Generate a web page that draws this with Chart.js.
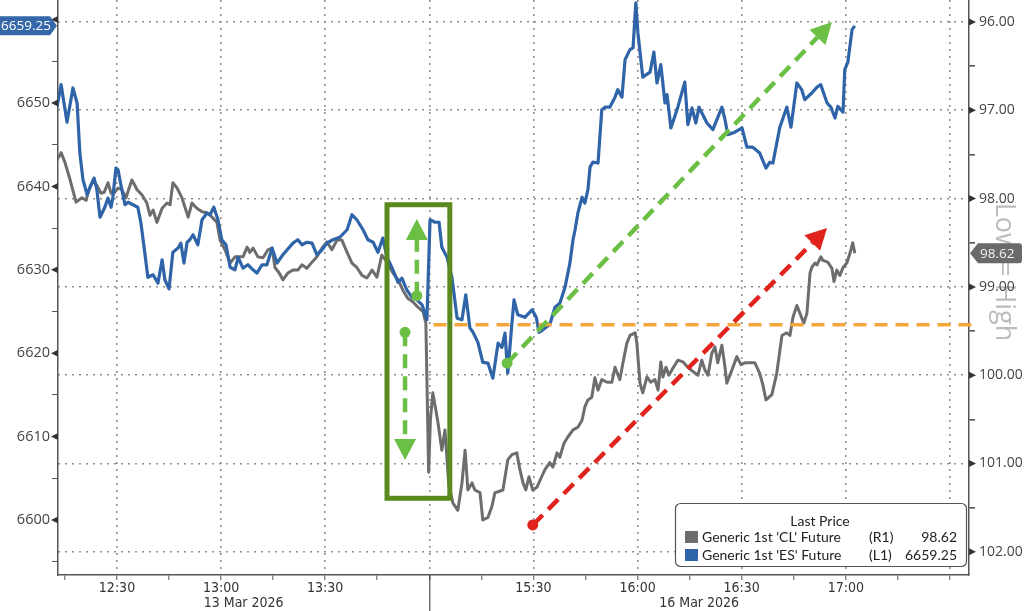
<!DOCTYPE html>
<html><head><meta charset="utf-8">
<script src="https://cdn.jsdelivr.net/npm/chart.js@4.4.1/dist/chart.umd.min.js"></script>
<style>html,body{margin:0;padding:0;background:#fff;overflow:hidden}#wrap{position:relative;width:1024px;height:611px}</style>
</head><body><div id="wrap"><canvas id="c" width="1024" height="611"></canvas></div>
<script>
// Time axis in minutes: values below 120 are minutes after 12:00 on 13 Mar 2026;
// values from 120 on are 16 Mar 2026 with 120 = 15:00 (session gap removed).
const esTime = [12.7,13.9,15.6,17.3,18.5,19.3,20.2,21.4,22.2,23.4,24.2,25.1,26.5,27.4,28.3,28.8,29.7,30.3,31.4,32.3,33.2,34.6,36.0,36.9,37.8,38.9,40.4,41.8,43.0,43.8,45.0,46.1,47.6,48.4,49.3,50.2,51.0,51.9,53.3,54.5,55.9,56.8,57.9,59.1,60.2,61.4,62.6,64.0,64.9,66.3,67.7,69.2,70.3,71.8,73.2,74.7,76.1,77.8,80.7,82.1,83.3,84.7,86.2,87.6,89.1,90.5,92.2,94.2,96.3,97.7,99.1,100.9,102.3,103.8,105.2,106.6,107.8,109.5,111.0,112.1,113.5,115.0,116.4,117.9,118.7,119.3,
  120.2,121.6,122.8,123.6,125.1,126.5,128.0,129.4,130.5,131.7,132.6,134.0,135.4,136.9,138.3,139.8,140.9,141.8,142.6,143.8,144.4,145.5,147.5,149.6,150.8,151.6,152.7,154.7,156.2,157.6,159.1,160.5,161.4,162.0,162.8,164.0,164.8,165.7,166.3,167.1,168.6,169.7,170.6,172.0,173.5,174.3,175.5,176.4,177.8,178.7,179.5,180.1,181.5,183.6,184.7,185.6,186.7,187.9,188.5,189.6,191.6,193.6,194.5,195.7,196.8,197.7,200.0,201.7,204.3,205.2,206.0,208.0,210.1,211.5,213.2,215.2,217.0,218.1,219.0,221.0,223.0,224.2,225.9,227.3,228.2,230.2,231.7,232.8,234.6,235.7,236.9,237.7,239.2,239.7,240.6,241.8,242.6];
const esValue = [6649.5,6652.2,6647.7,6651.8,6650.0,6644.0,6640.8,6639.0,6639.9,6641.0,6639.6,6636.3,6637.5,6638.6,6637.5,6638.7,6642.2,6642.0,6639.6,6637.8,6638.1,6637.8,6637.5,6635.6,6632.7,6629.1,6629.4,6628.4,6631.2,6628.8,6627.7,6632.1,6632.6,6633.2,6630.8,6633.3,6633.6,6634.2,6633.0,6636.0,6636.8,6636.6,6637.5,6636.0,6633.6,6633.0,6630.3,6630.0,6631.5,6630.2,6630.6,6630.0,6629.6,6630.6,6630.6,6632.6,6630.8,6631.8,6633.2,6633.6,6633.0,6633.3,6633.2,6631.8,6632.4,6633.2,6633.6,6633.9,6634.8,6636.6,6636.0,6634.8,6633.6,6633.3,6632.1,6633.8,6631.5,6630.0,6628.5,6629.0,6627.6,6626.7,6626.4,6625.8,6624.8,6624.0,
  6636.0,6635.7,6635.7,6632.7,6631.5,6629.1,6624.2,6624.0,6627.0,6623.0,6622.5,6621.3,6618.9,6618.8,6617.0,6621.2,6620.7,6622.4,6617.6,6623.6,6626.4,6624.6,6624.3,6625.2,6624.3,6622.5,6622.8,6623.4,6625.5,6626.0,6627.9,6630.8,6633.6,6634.8,6636.8,6638.7,6638.0,6639.6,6642.3,6642.9,6642.8,6649.2,6649.5,6649.5,6650.7,6651.6,6650.7,6655.2,6656.4,6656.6,6662.0,6658.4,6653.1,6653.7,6656.1,6652.4,6654.6,6650.0,6651.0,6647.0,6649.5,6652.5,6647.4,6649.4,6647.6,6649.5,6647.6,6646.8,6649.5,6648.0,6646.2,6646.5,6647.0,6644.7,6644.7,6644.0,6642.2,6642.9,6642.8,6647.1,6649.5,6647.1,6652.4,6651.6,6650.4,6651.2,6651.9,6652.2,6650.0,6649.5,6648.2,6649.6,6648.9,6654.0,6654.9,6658.8,6659.25];
const clTime = [12.7,13.9,15.0,16.5,18.2,19.9,21.1,21.6,23.1,24.2,25.4,26.3,27.4,28.3,29.1,30.3,31.4,32.6,33.5,34.3,35.8,37.2,38.6,39.5,40.4,41.5,43.0,44.4,45.3,46.1,47.3,48.7,50.5,51.6,53.0,54.5,55.9,57.4,58.8,59.7,61.1,62.6,64.0,66.3,67.5,68.3,69.2,70.6,72.1,73.5,74.7,75.5,76.7,77.8,79.3,80.7,82.1,83.3,84.7,86.2,87.6,89.1,90.5,91.9,93.4,94.8,96.3,97.7,99.1,100.6,102.0,103.5,104.9,106.3,107.8,109.5,111.0,112.4,113.8,115.3,116.7,118.2,119.0,119.8,
  120.3,121.0,122.5,123.6,124.5,125.6,126.8,128.2,129.4,130.3,131.1,132.3,133.1,134.6,135.4,136.9,138.0,138.9,139.8,141.2,142.6,143.8,145.2,146.1,147.0,147.8,148.7,149.8,151.0,151.9,153.3,154.7,155.6,156.8,157.6,158.8,159.9,161.4,162.8,164.0,164.8,165.7,166.8,167.7,168.6,169.7,171.2,172.6,173.5,174.9,175.8,176.9,177.8,179.3,179.8,180.7,181.5,182.7,183.8,185.0,185.9,186.7,187.3,188.2,189.0,190.2,191.6,193.1,194.5,196.0,197.4,198.5,199.4,200.3,201.4,202.3,203.1,204.3,205.2,205.7,207.2,208.6,209.8,210.9,212.4,213.8,215.2,216.1,217.0,218.7,220.1,221.6,223.0,223.9,224.8,225.9,226.8,227.9,228.8,229.7,230.2,231.1,231.7,232.8,233.4,234.8,236.0,236.6,237.4,238.3,239.2,240.3,241.2,242.0,242.6];
const clValue = [97.56,97.48,97.59,97.79,98.04,97.99,98.02,97.94,97.79,97.85,97.94,97.93,97.82,97.94,97.94,97.88,97.90,97.99,97.88,97.79,97.90,97.96,98.05,98.19,98.13,98.27,98.11,98.05,98.07,97.82,97.88,97.99,98.21,98.05,98.11,98.15,98.16,98.21,98.27,98.47,98.58,98.73,98.66,98.66,98.55,98.61,98.56,98.66,98.67,98.58,98.56,98.78,98.84,98.92,98.84,98.81,98.81,98.75,98.79,98.72,98.66,98.56,98.49,98.58,98.47,98.47,98.61,98.73,98.78,98.87,98.90,98.81,98.89,98.64,98.72,98.84,98.92,99.04,99.13,99.17,99.23,99.28,99.41,101.10,
  100.51,100.20,100.54,100.85,100.62,101.24,101.45,101.53,101.22,100.85,101.30,101.22,101.30,101.33,101.64,101.61,101.49,101.33,101.32,101.30,100.96,100.90,100.88,101.07,101.22,101.30,101.15,101.30,101.27,101.19,101.07,100.99,101.04,100.88,100.93,100.77,100.70,100.62,100.59,100.51,100.36,100.28,100.25,100.03,100.17,100.05,100.08,100.08,99.91,100.05,99.86,99.64,99.55,99.52,99.64,100.09,100.20,100.02,100.08,100.05,100.17,99.85,100.02,99.91,100.00,99.92,99.83,99.85,99.91,99.96,100.00,99.83,99.94,100.00,99.75,99.68,99.86,99.66,99.91,100.09,99.94,99.79,99.88,99.86,99.86,99.86,99.98,100.11,100.28,100.22,99.98,99.55,99.52,99.55,99.34,99.21,99.30,99.41,99.30,98.84,98.78,98.73,98.75,98.66,98.70,98.72,98.79,98.94,98.81,98.87,98.78,98.73,98.62,98.50,98.62];

const timeTicks = [15,30,45,60,75,90,105,120,135,150,165,180,195,210,225,240,255,270];
const timeTickLabels = {30:'12:30',60:'13:00',90:'13:30',150:'15:30',180:'16:00',210:'16:30',240:'17:00'};
const dayBreak = 120;
const dayNames = ['13 Mar 2026','16 Mar 2026'];
const esTicks = [6595,6600,6605,6610,6615,6620,6625,6630,6635,6640,6645,6650,6655,6660];
const esLabelled = [6600,6610,6620,6630,6640,6650];
const clTicks = [96,96.5,97,97.5,98,98.5,99,99.5,100,100.5,101,101.5,102];
const seriesNames = ["Generic 1st 'CL' Future", "Generic 1st 'ES' Future"];
const seriesAxes = ['(R1)','(L1)'];
const legendTitle = 'Last Price';
const axisNote = 'Low = High';

// Annotations (in time / ES-price coordinates)
const supportLevel = 6623.4, supportStart = 121.2;
const boxTime = [107.8, 125.9], boxLevel = [6637.8, 6602.6];
const arrowDefs = [
  {from:[116.4,6626.9], to:[116.4,6636.1], color:'green'},
  {from:[113.0,6622.5], to:[113.0,6607.2], color:'green'},
  {from:[142.4,6618.8], to:[236.0,6659.7], color:'green'},
  {from:[149.8,6599.4], to:[234.6,6635.0], color:'red'}
];

const COL = {es:'#2f64a8', cl:'#6d6d6d', green:'#6cbf45', red:'#e0231c', orange:'#f4a53c', box:'#5a8a1e'};
const CONDENSED = '"DejaVu Sans Condensed","Liberation Sans Narrow","Roboto Condensed","DejaVu Sans",sans-serif';

const esData = esTime.map((t,i)=>({x:t,y:esValue[i]}));
const clData = clTime.map((t,i)=>({x:t,y:clValue[i]}));

function fixWidth(w){return s=>{s.width=w;s.paddingTop=0;s.paddingBottom=0;};}

const deco = {
  id:'deco',
  beforeDraw(chart){
    const ctx=chart.ctx;
    ctx.save();
    ctx.translate(1004,272); ctx.rotate(Math.PI/2);
    ctx.font='27px "Open Sans"'; ctx.fillStyle='#bcbcbc';
    ctx.textAlign='center'; ctx.textBaseline='middle';
    ctx.fillText(axisNote,0,0);
    ctx.restore();
  },
  afterDatasetsDraw(chart){
    const {ctx, chartArea:a, scales} = chart;
    const X=v=>scales.x.getPixelForValue(v), Y=v=>scales.y.getPixelForValue(v);
    ctx.save();
    ctx.strokeStyle=COL.orange; ctx.lineWidth=3.5; ctx.setLineDash([13,8]);
    const oy=Y(supportLevel);
    ctx.beginPath(); ctx.moveTo(X(supportStart),oy); ctx.lineTo(a.right+6,oy); ctx.stroke();
    ctx.setLineDash([]); ctx.strokeStyle=COL.box; ctx.lineWidth=5;
    const bx0=X(boxTime[0]), bx1=X(boxTime[1]), by0=Y(boxLevel[0]), by1=Y(boxLevel[1]);
    ctx.strokeRect(bx0,by0,bx1-bx0,by1-by0);
    arrowDefs.forEach(ar=>{
      const c=COL[ar.color];
      const x0=X(ar.from[0]), y0=Y(ar.from[1]), x1=X(ar.to[0]), y1=Y(ar.to[1]);
      const ang=Math.atan2(y1-y0,x1-x0);
      const head=21, hw=11;
      const bx=x1-Math.cos(ang)*head, by=y1-Math.sin(ang)*head;
      ctx.strokeStyle=c; ctx.fillStyle=c; ctx.lineWidth=4.5; ctx.setLineDash([14,8]);
      ctx.beginPath(); ctx.moveTo(x0,y0); ctx.lineTo(bx,by); ctx.stroke();
      ctx.setLineDash([]);
      ctx.beginPath(); ctx.arc(x0,y0,5.5,0,Math.PI*2); ctx.fill();
      ctx.beginPath(); ctx.moveTo(x1,y1);
      ctx.lineTo(bx+Math.sin(ang)*hw, by-Math.cos(ang)*hw);
      ctx.lineTo(bx-Math.sin(ang)*hw, by+Math.cos(ang)*hw);
      ctx.closePath(); ctx.fill();
    });
    ctx.restore();
  },
  afterDraw(chart){
    const {ctx, chartArea:a, scales} = chart;
    const X=v=>scales.x.getPixelForValue(v), Y=v=>scales.y.getPixelForValue(v), Y1=v=>scales.y1.getPixelForValue(v);
    ctx.save();
    ctx.fillStyle='#333';
    esTicks.filter(v=>v%10===0).forEach(v=>{
      const p=Y(v); ctx.beginPath(); ctx.moveTo(a.left-7,p); ctx.lineTo(a.left,p-3.5); ctx.lineTo(a.left,p+3.5); ctx.closePath(); ctx.fill();
    });
    clTicks.filter(v=>Number.isInteger(v)).forEach(v=>{
      const p=Y1(v); ctx.beginPath(); ctx.moveTo(a.right+7,p); ctx.lineTo(a.right,p-3.5); ctx.lineTo(a.right,p+3.5); ctx.closePath(); ctx.fill();
    });
    const xb=X(dayBreak);
    ctx.strokeStyle='#333'; ctx.lineWidth=1;
    ctx.beginPath(); ctx.moveTo(xb+0.5,a.bottom); ctx.lineTo(xb+0.5,611); ctx.stroke();
    ctx.font='14px '+CONDENSED; ctx.fillStyle='#333'; ctx.textAlign='center'; ctx.textBaseline='middle';
    ctx.fillText(dayNames[0],(a.left+xb)/2,603);
    ctx.fillText(dayNames[1],(xb+a.right)/2,603);
    const lx=675, ly=503, lw=291, lh=63;
    ctx.fillStyle='#fff'; ctx.strokeStyle='#555'; ctx.lineWidth=1.2;
    ctx.beginPath(); ctx.roundRect(lx+0.5,ly+0.5,lw,lh,5); ctx.fill(); ctx.stroke();
    ctx.font='14px Lato'; ctx.fillStyle='#222'; ctx.textAlign='center';
    ctx.fillText(legendTitle, 820, 521);
    const lastVals=[clValue[clValue.length-1].toFixed(2), esValue[esValue.length-1].toFixed(2)];
    const cols=[COL.cl, COL.es];
    [0,1].forEach(i=>{
      const yy=537+i*18;
      ctx.fillStyle=cols[i]; ctx.fillRect(685,yy-6,13,12);
      ctx.fillStyle='#222'; ctx.textAlign='left';
      ctx.fillText(seriesNames[i],702,yy);
      ctx.fillText(seriesAxes[i],869,yy);
      ctx.textAlign='right'; ctx.fillText(lastVals[i],957,yy);
    });
    const ey=Y(esValue[esValue.length-1]);
    ctx.fillStyle='#3468a9';
    ctx.beginPath(); ctx.moveTo(0,ey-9.5); ctx.lineTo(50,ey-9.5); ctx.lineTo(57,ey); ctx.lineTo(50,ey+9.5); ctx.lineTo(0,ey+9.5); ctx.closePath(); ctx.fill();
    ctx.fillStyle='#fff'; ctx.font='13.5px "Open Sans"'; ctx.textAlign='left';
    ctx.fillText(esValue[esValue.length-1].toFixed(2),1,ey+0.5);
    const cy=Y1(clValue[clValue.length-1]);
    ctx.fillStyle='#6a6a6a';
    ctx.beginPath(); ctx.moveTo(970,cy); ctx.lineTo(978,cy-10); ctx.lineTo(1019,cy-10); ctx.quadraticCurveTo(1022,cy-10,1022,cy-7); ctx.lineTo(1022,cy+7); ctx.quadraticCurveTo(1022,cy+10,1019,cy+10); ctx.lineTo(978,cy+10); ctx.closePath(); ctx.fill();
    ctx.fillStyle='#f2f2f2'; ctx.font='13.5px "Open Sans"';
    ctx.fillText(clValue[clValue.length-1].toFixed(2),980,cy+0.5);
    ctx.restore();
  }
};

new Chart(document.getElementById('c'), {
  type:'line',
  data:{datasets:[
    {label:seriesNames[1], data:esData, yAxisID:'y', borderColor:COL.es, borderWidth:3.2, pointRadius:0, tension:0, borderJoinStyle:'round', order:0},
    {label:seriesNames[0], data:clData, yAxisID:'y1', borderColor:COL.cl, borderWidth:3, pointRadius:0, tension:0, borderJoinStyle:'round', order:1}
  ]},
  options:{
    responsive:false, animation:false, devicePixelRatio:1,
    layout:{padding:0},
    plugins:{legend:{display:false}, tooltip:{enabled:false}},
    scales:{
      x:{type:'linear', min:13, max:275.5,
        afterBuildTicks:s=>{s.ticks=timeTicks.map(v=>({value:v}));},
        afterFit:s=>{s.height=36;s.paddingLeft=0;s.paddingRight=0;},
        ticks:{autoSkip:false, maxRotation:0, padding:0, color:'#333', font:{family:CONDENSED,size:14},
          callback:v=>timeTickLabels[v]||''},
        grid:{color:c=>(c.tick&&c.tick.value%30===0)?'#8f8f8f':'rgba(0,0,0,0)', lineWidth:1.6, tickColor:'#555', tickLength:5, tickWidth:1},
        border:{color:'#555', width:1.5, dash:[2,5]}
      },
      y:{position:'left', min:6593.4, max:6662.35,
        afterBuildTicks:s=>{s.ticks=esTicks.map(v=>({value:v}));},
        afterFit:fixWidth(58),
        ticks:{padding:2, color:'#444', font:{family:'"Open Sans"',size:14.5}, callback:v=>esLabelled.includes(v)?String(v):''},
        grid:{drawOnChartArea:false, tickLength:6, tickColor:c=>(c.tick&&c.tick.value%10===0)?'rgba(0,0,0,0)':'#555'},
        border:{color:'#555', width:1.5}
      },
      y1:{position:'right', reverse:true, min:95.751, max:102.263,
        afterBuildTicks:s=>{s.ticks=clTicks.map(v=>({value:v}));},
        afterFit:fixWidth(55),
        ticks:{padding:4, color:'#444', font:{family:'"Open Sans"',size:14}, callback:v=>Number.isInteger(v)?v.toFixed(2):''},
        grid:{color:c=>(c.tick&&Number.isInteger(c.tick.value))?'#8f8f8f':'rgba(0,0,0,0)', lineWidth:1.6, tickLength:6,
          tickColor:c=>(c.tick&&Number.isInteger(c.tick.value))?'rgba(0,0,0,0)':'#555'},
        border:{color:'#555', width:1.5, dash:[2,5]}
      }
    }
  },
  plugins:[deco]
});
</script></body></html>
